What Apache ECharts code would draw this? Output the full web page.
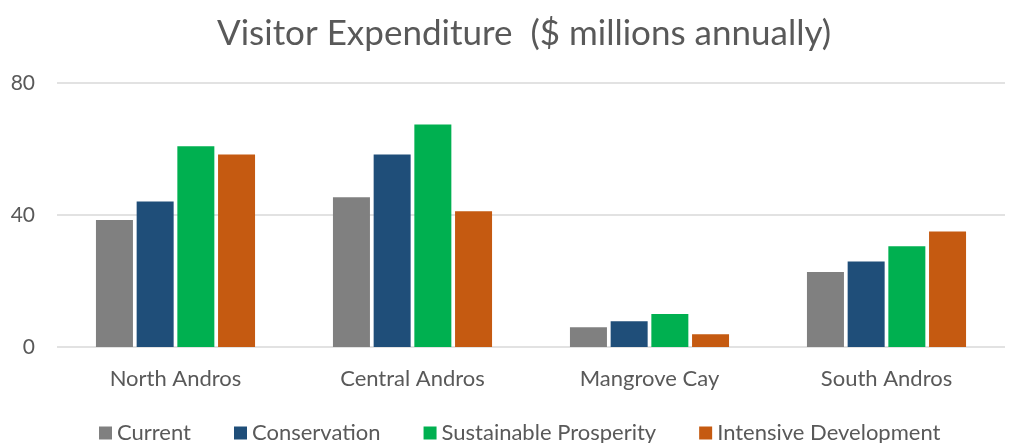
<!DOCTYPE html>
<html>
<head>
<meta charset="utf-8">
<script src="https://cdn.jsdelivr.net/npm/echarts@6/dist/echarts.min.js"></script>
<style>html,body{margin:0;padding:0;background:#fff}#c{width:1013px;height:443px}</style>
</head>
<body>
<div id="c"></div>
<script>
const categories = ['North Andros', 'Central Andros', 'Mangrove Cay', 'South Andros'];
const current = [38.5, 45.4, 6.0, 22.7];
const conservation = [44.1, 58.3, 7.8, 25.9];
const sustainable = [60.8, 67.4, 10.0, 30.5];
const intensive = [58.3, 41.1, 3.9, 35.0];
const yTicks = [0, 40, 80];

const font = 'Lato, "Open Sans", sans-serif';
const txt = '#595959';
const chart = echarts.init(document.getElementById('c'));
const mk = (name, data, color) => ({
  name, type: 'bar', data, barWidth: 37, barGap: '10%',
  itemStyle: { color }
});
chart.setOption({
  animation: false,
  title: {
    text: 'Visitor Expenditure  ($ millions annually)',
    left: 212, top: 11,
    textStyle: { fontFamily: font, fontSize: 35, fontWeight: 'normal', color: txt }
  },
  legend: {
    left: 94, bottom: -6, itemWidth: 13, itemHeight: 13, itemGap: 43, icon: 'rect',
    textStyle: { fontFamily: font, fontSize: 22, color: txt },
    data: ['Current', 'Conservation', 'Sustainable Prosperity', 'Intensive Development']
  },
  grid: { left: 57, right: 8, top: 83, bottom: 96, containLabel: false },
  xAxis: {
    type: 'category', data: categories,
    axisLine: { show: false }, axisTick: { show: false },
    axisLabel: { fontFamily: font, fontSize: 22, color: txt, margin: 21 }
  },
  yAxis: {
    type: 'value', min: yTicks[0], max: yTicks[yTicks.length - 1], interval: 40,
    axisLine: { show: false }, axisTick: { show: false },
    axisLabel: { fontFamily: font, fontSize: 21, color: txt, margin: 22 },
    splitLine: { lineStyle: { color: '#d9d9d9', width: 1.5 } }
  },
  series: [
    mk('Current', current, '#808080'),
    mk('Conservation', conservation, '#1f4e79'),
    mk('Sustainable Prosperity', sustainable, '#00b050'),
    mk('Intensive Development', intensive, '#c55a11')
  ]
});
</script>
</body>
</html>
